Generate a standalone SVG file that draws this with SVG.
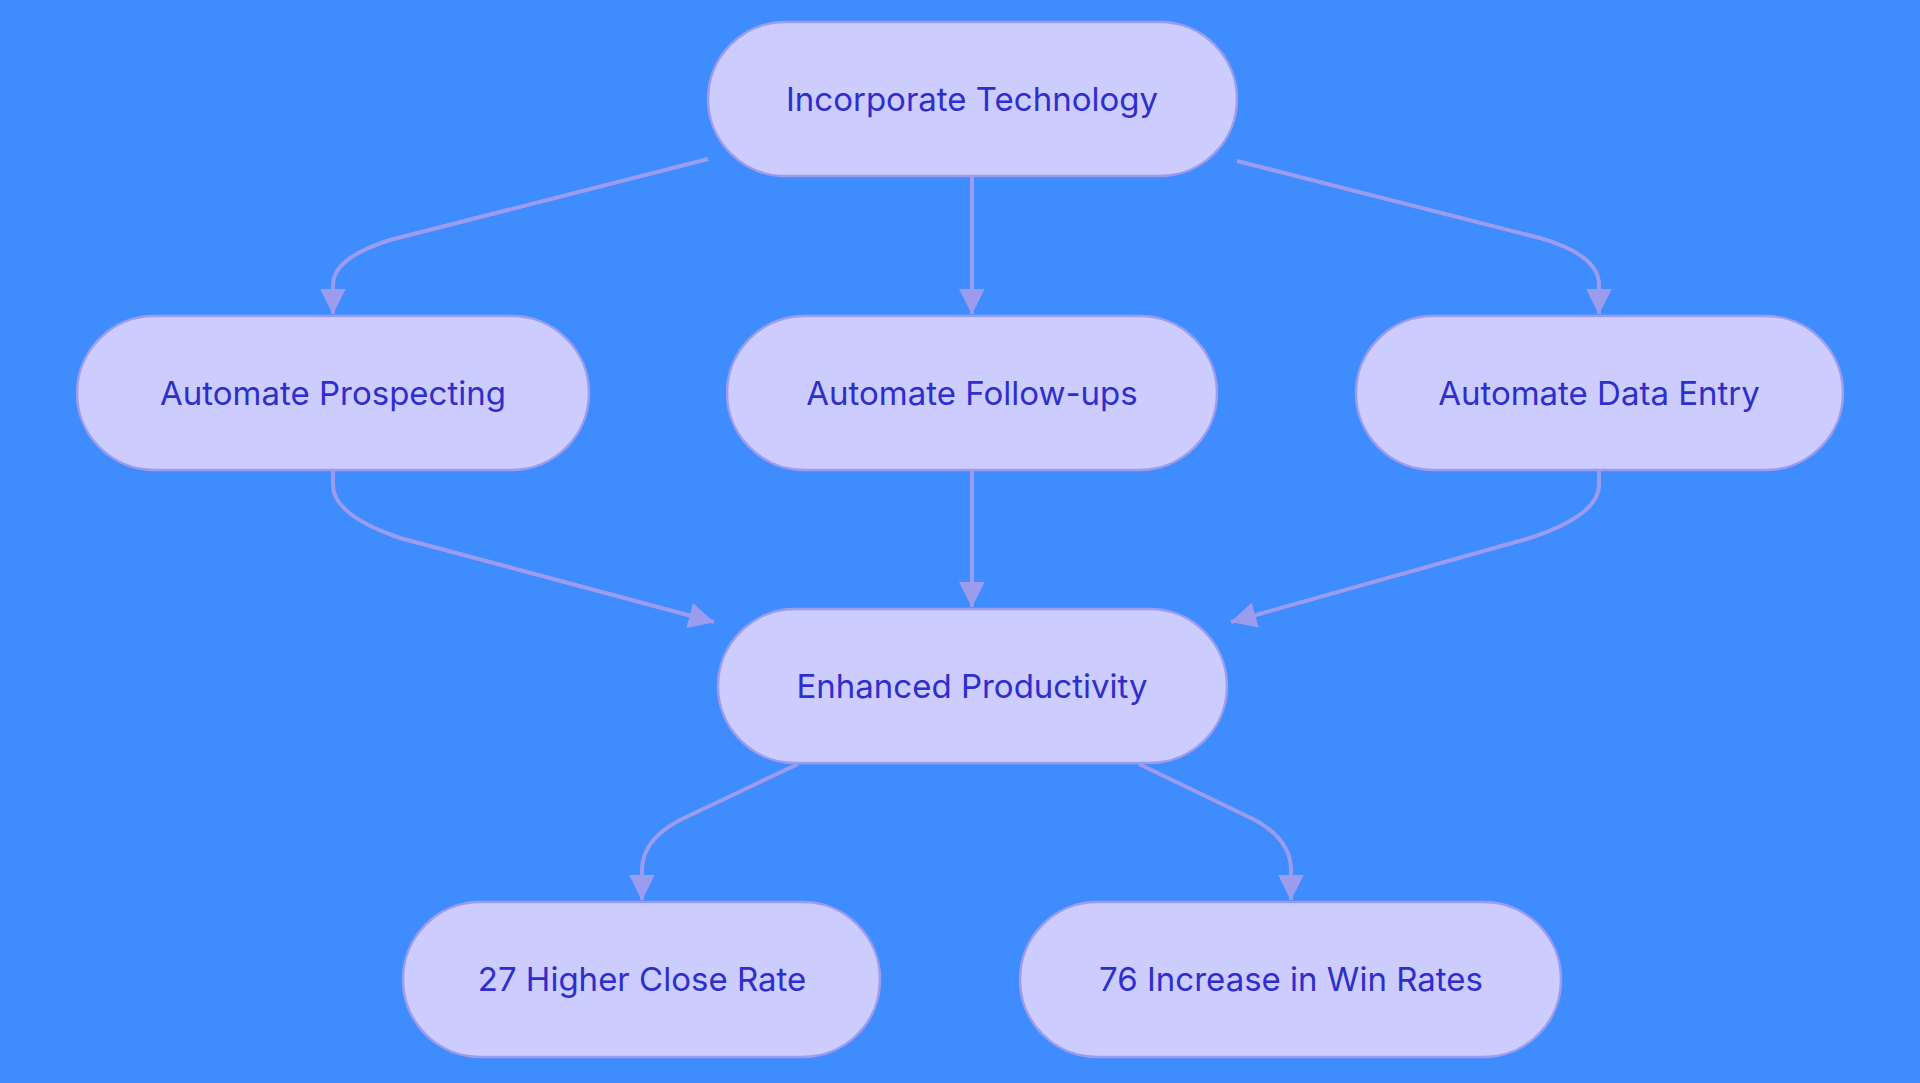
<svg xmlns="http://www.w3.org/2000/svg" width="1920" height="1083" viewBox="0 0 1920 1083">
<defs>
<style>
.n rect{fill:#CCCCFF;stroke:#9C9CEE;stroke-width:2.5}
.n text{font-family:Inter,"Noto Sans",sans-serif;font-size:33px;fill:#2E2ECC;text-anchor:middle;dominant-baseline:central}
.e path{fill:none;stroke:#9C9CEE;stroke-width:4;marker-end:url(#a)}
</style>
<marker id="a" viewBox="0 0 10 10" refX="9" refY="5" markerWidth="8" markerHeight="8" markerUnits="userSpaceOnUse" orient="auto" overflow="visible">
<path d="M0,0 L10,5 L0,10 z" fill="#9C9CEE" transform="scale(3.2) translate(-7,-3.4)"/>
</marker>
</defs>
<rect width="1920" height="1083" fill="#3F8CFF"/>
<g class="e">
<path d="M708,159 L390,240 Q333,258 333,285 L333,314"/>
<path d="M972,176 L972,314"/>
<path d="M1237,161 L1540,238 Q1599,255 1599,285 L1599,314"/>
<path d="M333,470 L333,485 Q333,515 400,538 L714,622"/>
<path d="M972,470 L972,607"/>
<path d="M1599,470 L1599,485 Q1599,515 1530,538 L1231,622"/>
<path d="M798,764 L680,820 Q642,840 642,870 L642,900"/>
<path d="M1139,764 L1255,820 Q1291,840 1291,870 L1291,900"/>
</g>
<g id="n1" class="n"><rect x="708" y="22" width="529" height="154" rx="77"/><text x="972" y="99">Incorporate Technology</text></g>
<g id="n2" class="n"><rect x="77" y="316" width="512" height="154" rx="77"/><text x="333" y="393">Automate Prospecting</text></g>
<g id="n3" class="n"><rect x="727" y="316" width="490" height="154" rx="77"/><text x="972" y="393">Automate Follow-ups</text></g>
<g id="n4" class="n"><rect x="1356" y="316" width="487" height="154" rx="77"/><text x="1599" y="393">Automate Data Entry</text></g>
<g id="n5" class="n"><rect x="718" y="609" width="509" height="154" rx="77"/><text x="972" y="686">Enhanced Productivity</text></g>
<g id="n6" class="n"><rect x="403" y="902" width="477" height="155" rx="77"/><text x="642" y="979">27 Higher Close Rate</text></g>
<g id="n7" class="n"><rect x="1020" y="902" width="541" height="155" rx="77"/><text x="1291" y="979">76 Increase in Win Rates</text></g>
</svg>
